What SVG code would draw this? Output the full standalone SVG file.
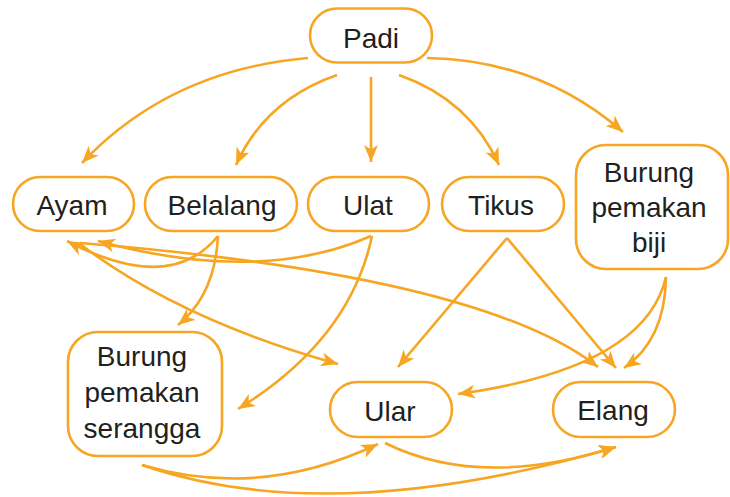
<svg xmlns="http://www.w3.org/2000/svg" width="730" height="497" viewBox="0 0 730 497">
  <style>
    .box { fill: #ffffff; stroke: #F6A623; stroke-width: 2.6; }
    .lbl { font-family: "Liberation Sans", Arial, sans-serif; font-size: 28px; fill: #231F20; text-anchor: middle; }
    .edge { fill: none; stroke: #F6A623; stroke-width: 2.6; marker-end: url(#head); }
    .plain { fill: none; stroke: #F6A623; stroke-width: 2.6; }
  </style>
  <defs>
    <marker id="head" markerUnits="userSpaceOnUse" markerWidth="18" markerHeight="14" refX="17" refY="7" orient="auto">
      <path d="M0,0 L17,7 L0,14 L4.5,7 Z" fill="#F6A623"/>
    </marker>
  </defs>
  <rect width="730" height="497" fill="#ffffff"/>

  <!-- connectors -->
  <g id="connectors">
    <!-- from Padi -->
    <path class="edge" d="M308,58 Q170,70 82,163"/>
    <path class="edge" d="M337,75 Q265,100 236,165"/>
    <path class="edge" d="M371,77 L371,162"/>
    <path class="edge" d="M399,75 Q470,100 499,165"/>
    <path class="edge" d="M427,58 Q540,60 623,132"/>
    <!-- into Ayam -->
    <path class="edge" d="M218,236 Q170,295 67,241"/>
    <path class="edge" d="M371,236 Q260,285 98,241"/>
    <!-- from Ayam -->
    <path class="edge" d="M80,244 Q180,320 338,364"/>
    <path class="edge" d="M80,243 Q480,275 598,367"/>
    <!-- into Burung pemakan serangga -->
    <path class="edge" d="M218,236 Q215,295 178,325"/>
    <path class="edge" d="M372,236 Q350,340 238,409"/>
    <!-- from Tikus -->
    <path class="edge" d="M507,238 L398,367"/>
    <path class="edge" d="M507,238 L616,368"/>
    <!-- from Burung pemakan biji -->
    <path class="edge" d="M666,277 Q645,368 458,394"/>
    <path class="edge" d="M666,277 Q665,340 624,368"/>
    <!-- from Burung pemakan serangga -->
    <path class="edge" d="M142,465 Q260,500 378,444"/>
    <path class="edge" d="M142,465 Q330,530 616,447"/>
    <!-- Ular to Elang -->
    <path class="edge" d="M385,443 Q480,490 616,447"/>
  </g>

  <!-- nodes -->
  <g id="padi">
    <rect class="box" x="310" y="8.5" width="122" height="54" rx="27"/>
    <text class="lbl" x="371" y="48">Padi</text>
  </g>
  <g id="ayam">
    <rect class="box" x="13" y="177" width="121" height="54" rx="27"/>
    <text class="lbl" x="72" y="215">Ayam</text>
  </g>
  <g id="belalang">
    <rect class="box" x="145" y="177" width="152" height="54" rx="27"/>
    <text class="lbl" x="222" y="215">Belalang</text>
  </g>
  <g id="ulat">
    <rect class="box" x="308" y="177" width="121" height="54" rx="27"/>
    <text class="lbl" x="368" y="215">Ulat</text>
  </g>
  <g id="tikus">
    <rect class="box" x="442" y="177" width="122" height="54" rx="27"/>
    <text class="lbl" x="501" y="215">Tikus</text>
  </g>
  <g id="burung-pemakan-biji">
    <rect class="box" x="576" y="145" width="152" height="124" rx="30"/>
    <text class="lbl" x="649" y="182">Burung</text>
    <text class="lbl" x="649" y="217">pemakan</text>
    <text class="lbl" x="649" y="252">biji</text>
  </g>
  <g id="burung-pemakan-serangga">
    <rect class="box" x="68" y="332" width="154" height="124" rx="30"/>
    <text class="lbl" x="142" y="366">Burung</text>
    <text class="lbl" x="142" y="402">pemakan</text>
    <text class="lbl" x="142" y="438">serangga</text>
  </g>
  <g id="ular">
    <rect class="box" x="330" y="382" width="122" height="55" rx="27.5"/>
    <text class="lbl" x="390" y="421">Ular</text>
  </g>
  <g id="elang">
    <rect class="box" x="553" y="382" width="122" height="55" rx="27.5"/>
    <text class="lbl" x="613" y="420">Elang</text>
  </g>
</svg>
